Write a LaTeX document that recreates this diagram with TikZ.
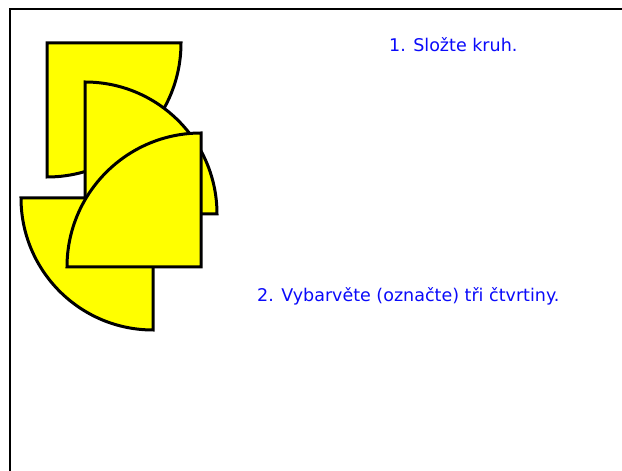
\documentclass[tikz,border=0pt]{standalone}
\usepackage{fontspec}
\setmainfont{DejaVu Sans}
\usetikzlibrary{positioning}
\definecolor{quarteryellow}{RGB}{255,255,0}
\definecolor{taskblue}{RGB}{10,10,250}

\begin{document}
\begin{tikzpicture}[x=1pt,y=1pt,
    quarter/.style={fill=quarteryellow,draw=black,line width=3pt},
    task/.style={text=taskblue,inner sep=0pt,anchor=base west,font=\fontsize{17.5}{21}\selectfont}]
                \useasboundingbox (0,0) rectangle (622,471);
                \fill[white] (0,0) rectangle (622,471);
                \draw[line width=2pt] (10,-5)--(10,462)--(630,462);
                % ctvrtiny kruhu
                \draw[quarter] (47,428)--(181,428) arc[start angle=0,end angle=-90,radius=134]--cycle;
                \draw[quarter] (85,257)--(217,257) arc[start angle=0,end angle=90,radius=132]--cycle;
                \draw[quarter] (153,273)--(21,273) arc[start angle=180,end angle=270,radius=132]--cycle;
                \draw[quarter] (201,204)--(67,204) arc[start angle=180,end angle=90,radius=134]--cycle;
                % zadani
                \node[task] (slozte) at (389,419) {1. Složte kruh.};
                \node[task] (vybarvete) at (257,169) {2. Vybarvěte (označte) tři čtvrtiny.};
            \end{tikzpicture}
\end{document}
